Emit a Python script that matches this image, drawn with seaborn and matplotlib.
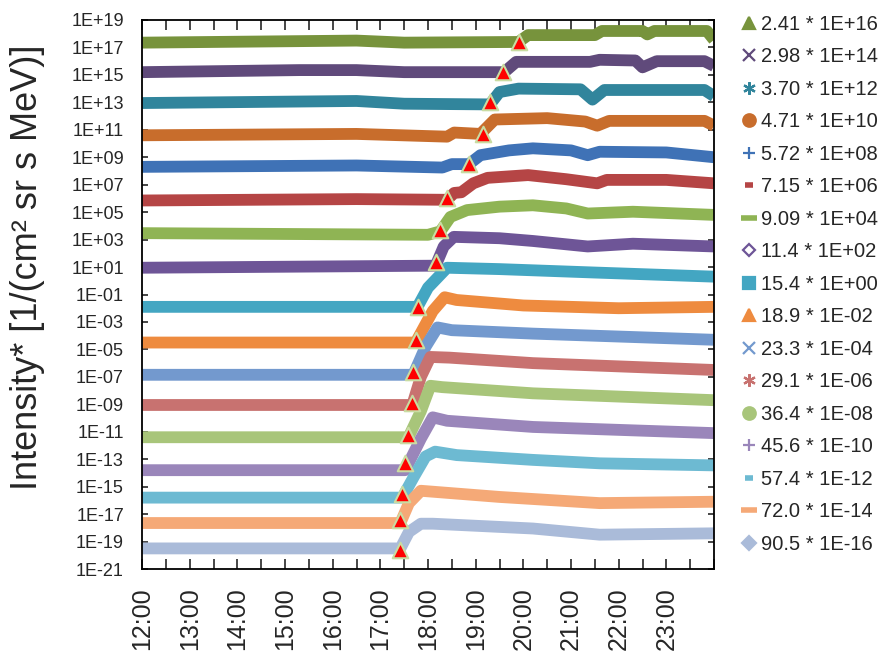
import numpy as np
import pandas as pd
import matplotlib.pyplot as plt
import seaborn as sns
from matplotlib.lines import Line2D
from matplotlib.transforms import ScaledTranslation

# ---- data (hour of day, log10 of scaled intensity) ----
labels = ["2.41 * 1E+16", "2.98 * 1E+14", "3.70 * 1E+12", "4.71 * 1E+10",
          "5.72 * 1E+08", "7.15 * 1E+06", "9.09 * 1E+04", "11.4 * 1E+02",
          "15.4 * 1E+00", "18.9 * 1E-02", "23.3 * 1E-04", "29.1 * 1E-06",
          "36.4 * 1E-08", "45.6 * 1E-10", "57.4 * 1E-12", "72.0 * 1E-14",
          "90.5 * 1E-16"]

trace_241 = [(12, 17.35), (16.5, 17.5), (17.5, 17.35), (19.9, 17.4), (20.1, 17.9), (21.5, 17.9),
             (21.65, 18.2), (22.5, 18.2), (22.6, 17.95), (22.75, 18.2), (23.85, 18.2), (24, 17.55)]
trace_298 = [(12, 15.2), (15.3, 15.35), (16.5, 15.35), (17.5, 15.2), (19.6, 15.2), (19.85, 15.95),
             (21.4, 15.95), (21.6, 16.1), (22.35, 16.05), (22.5, 15.55), (22.8, 16.0), (23.8, 16.0), (24, 15.65)]
trace_370 = [(12, 12.95), (16.5, 13.1), (17.5, 12.9), (19.3, 12.85), (19.5, 13.75), (19.9, 14.0),
             (21.2, 13.95), (21.45, 13.2), (21.7, 13.9), (23.8, 13.9), (24, 13.45)]
trace_471 = [(12, 10.6), (16.5, 10.7), (18.4, 10.5), (18.55, 10.8), (19.1, 10.7), (19.4, 11.75),
             (20.5, 11.85), (21.3, 11.6), (21.55, 11.3), (21.8, 11.65), (23.8, 11.65), (24, 11.3)]
trace_572 = [(12, 8.3), (16.5, 8.4), (18.3, 8.25), (18.5, 8.5), (18.86, 8.5), (19.1, 9.15), (19.7, 9.5),
             (20.2, 9.65), (21.0, 9.5), (21.35, 9.15), (21.6, 9.4), (23.0, 9.35), (24, 9.0)]
trace_715 = [(12, 5.85), (16.5, 5.95), (18.4, 5.9), (18.55, 6.4), (18.7, 6.45), (18.95, 7.1), (19.25, 7.5),
             (20.1, 7.7), (20.9, 7.4), (21.55, 7.1), (21.75, 7.35), (23.0, 7.35), (24, 7.1)]
trace_909 = [(12, 3.47), (18.0, 3.35), (18.26, 3.6), (18.47, 4.65), (18.82, 5.15), (19.5, 5.4),
             (20.2, 5.5), (20.9, 5.27), (21.35, 4.9), (22.3, 5.03), (24, 4.8)]
trace_114 = [(12, 0.95), (18.16, 1.1), (18.33, 2.5), (18.54, 3.2), (19.5, 3.1), (20.2, 2.9),
             (21.35, 2.5), (22.3, 2.7), (24, 2.5)]
trace_154 = [(12, -1.9), (17.78, -1.9), (18.0, -0.5), (18.4, 0.95), (19.5, 0.85), (21.5, 0.6), (24, 0.3)]
trace_189 = [(12, -4.5), (17.74, -4.5), (18.1, -2.2), (18.35, -1.2), (18.6, -1.4), (20.0, -1.8),
             (22.0, -2.0), (24, -1.9)]
trace_233 = [(12, -6.85), (17.69, -6.85), (17.95, -4.8), (18.2, -3.4), (18.5, -3.6), (20.2, -3.85), (24, -4.3)]
trace_291 = [(12, -9.05), (17.67, -9.05), (17.85, -7.0), (18.05, -5.55), (18.45, -5.6), (20.2, -6.0), (24, -6.5)]
trace_364 = [(12, -11.4), (17.59, -11.4), (17.85, -9.5), (18.05, -7.65), (18.3, -7.75), (20.2, -8.2), (24, -8.7)]
trace_456 = [(12, -13.8), (17.52, -13.8), (17.85, -11.5), (18.1, -9.95), (18.4, -10.2), (20.2, -10.65), (24, -11.1)]
trace_574 = [(12, -15.8), (17.46, -15.8), (17.7, -14.3), (17.95, -12.8), (18.15, -12.45), (18.6, -12.7),
             (20.2, -13.05), (21.6, -13.3), (24, -13.45)]
trace_720 = [(12, -17.65), (17.42, -17.65), (17.6, -16.2), (17.85, -15.3), (19.5, -15.75), (21.6, -16.2), (24, -16.1)]
trace_905 = [(12, -19.5), (17.42, -19.5), (17.6, -18.3), (17.85, -17.7), (18.1, -17.7), (20.2, -18.05),
             (21.6, -18.5), (24, -18.4)]

traces = [trace_241, trace_298, trace_370, trace_471, trace_572, trace_715, trace_909, trace_114,
          trace_154, trace_189, trace_233, trace_291, trace_364, trace_456, trace_574, trace_720, trace_905]

# onset markers (red triangles)
onset_hour = [19.9, 19.58, 19.3, 19.15, 18.85, 18.4, 18.26, 18.16, 17.78, 17.74, 17.69, 17.67,
              17.59, 17.52, 17.46, 17.42, 17.42]
onset_exp = [17.4, 15.2, 13.0, 10.7, 8.5, 6.0, 3.7, 1.35, -1.9, -4.3, -6.65, -8.9, -11.25,
             -13.3, -15.5, -17.45, -19.6]

hour_labels = ["12:00", "13:00", "14:00", "15:00", "16:00", "17:00", "18:00", "19:00",
               "20:00", "21:00", "22:00", "23:00"]

# ---- styles ----
colors = ["#77933C", "#604A7B", "#31859C", "#C86D2C", "#3F72B6", "#B54545", "#8FB454", "#6E5597",
          "#43A6C2", "#EE8B3F", "#7399CE", "#C87270", "#A8C57A", "#9A86BA", "#6DBAD2", "#F5A977", "#AABBD9"]
markers = ["^", "x", (6, 2, 0), "o", "+", "_", "_", "D", "s", "^", "x", (6, 2, 0), "o", "+", "_", "_", "D"]
msizes = [9, 8, 9, 9, 9, 6, 11, 6, 8, 9, 8, 9, 9, 9, 6, 11, 7]

rows = []
for lab, pts in zip(labels, traces):
    for h, e in pts:
        rows.append((lab, h, 10.0 ** e))
df = pd.DataFrame(rows, columns=["series", "hour", "intensity"])

sns.set_style("ticks")
plt.rcParams["font.family"] = ["Liberation Sans", "DejaVu Sans"]

fig = plt.figure(figsize=(8.81, 6.64), dpi=100)
ax = fig.add_axes([142 / 881, 95 / 664, 572 / 881, 549 / 664])

sns.lineplot(data=df, x="hour", y="intensity", hue="series", hue_order=labels,
             palette=dict(zip(labels, colors)), lw=8.5, solid_capstyle="butt",
             estimator=None, sort=False, legend=False, ax=ax)

sns.scatterplot(x=onset_hour, y=[10.0 ** e for e in onset_exp], marker="^", s=125,
                color="#FF0000", edgecolor="#C9DCA2", linewidth=1.5, zorder=5, ax=ax)

ax.set_yscale("log")
ax.set_ylim(1e-21, 1e19)
ax.set_xlim(12, 24)

exps = list(range(-21, 20, 2))
ax.set_yticks([10.0 ** k for k in exps])
ax.set_yticklabels([f"1E{k:+03d}" for k in exps])
ax.yaxis.set_minor_locator(plt.NullLocator())

ax.set_xticks(np.arange(12, 24.01, 0.5))
ax.set_xticklabels([hour_labels[i // 2] if i % 2 == 0 and i < 24 else "" for i in range(25)],
                   rotation=90)
off = ScaledTranslation(0.06, 0, fig.dpi_scale_trans)
for lab in ax.get_xticklabels():
    lab.set_transform(lab.get_transform() + off)

ax.tick_params(axis="x", direction="in", top=True, length=7, width=1.2, labelsize=18, pad=13)
ax.tick_params(axis="y", direction="in", right=True, length=4, width=1.2, labelsize=13, pad=13)
for sp in ax.spines.values():
    sp.set_linewidth(1.3)
    sp.set_color("black")

ax.set_xlabel("")
ax.set_ylabel("Intensity* [1/(cm² sr s MeV)]", fontsize=26)
ax.yaxis.set_label_coords(-0.17, 0.55)

handles = [Line2D([], [], ls="none", marker=m, color=c, markersize=ms,
                  markeredgewidth=(4 if m == "_" else 1.6),
                  markerfacecolor=("white" if (m == "D" and i == 7) else c))
           for i, (m, c, ms) in enumerate(zip(markers, colors, msizes))]
fig.legend(handles, labels, loc="upper left", bbox_to_anchor=(740 / 881, 1 - 15 / 664),
           frameon=False, fontsize=14.5, labelspacing=0.67, handlelength=0.9,
           handletextpad=0.15, borderpad=0, borderaxespad=0)

fig.savefig("out.png", dpi=100)
